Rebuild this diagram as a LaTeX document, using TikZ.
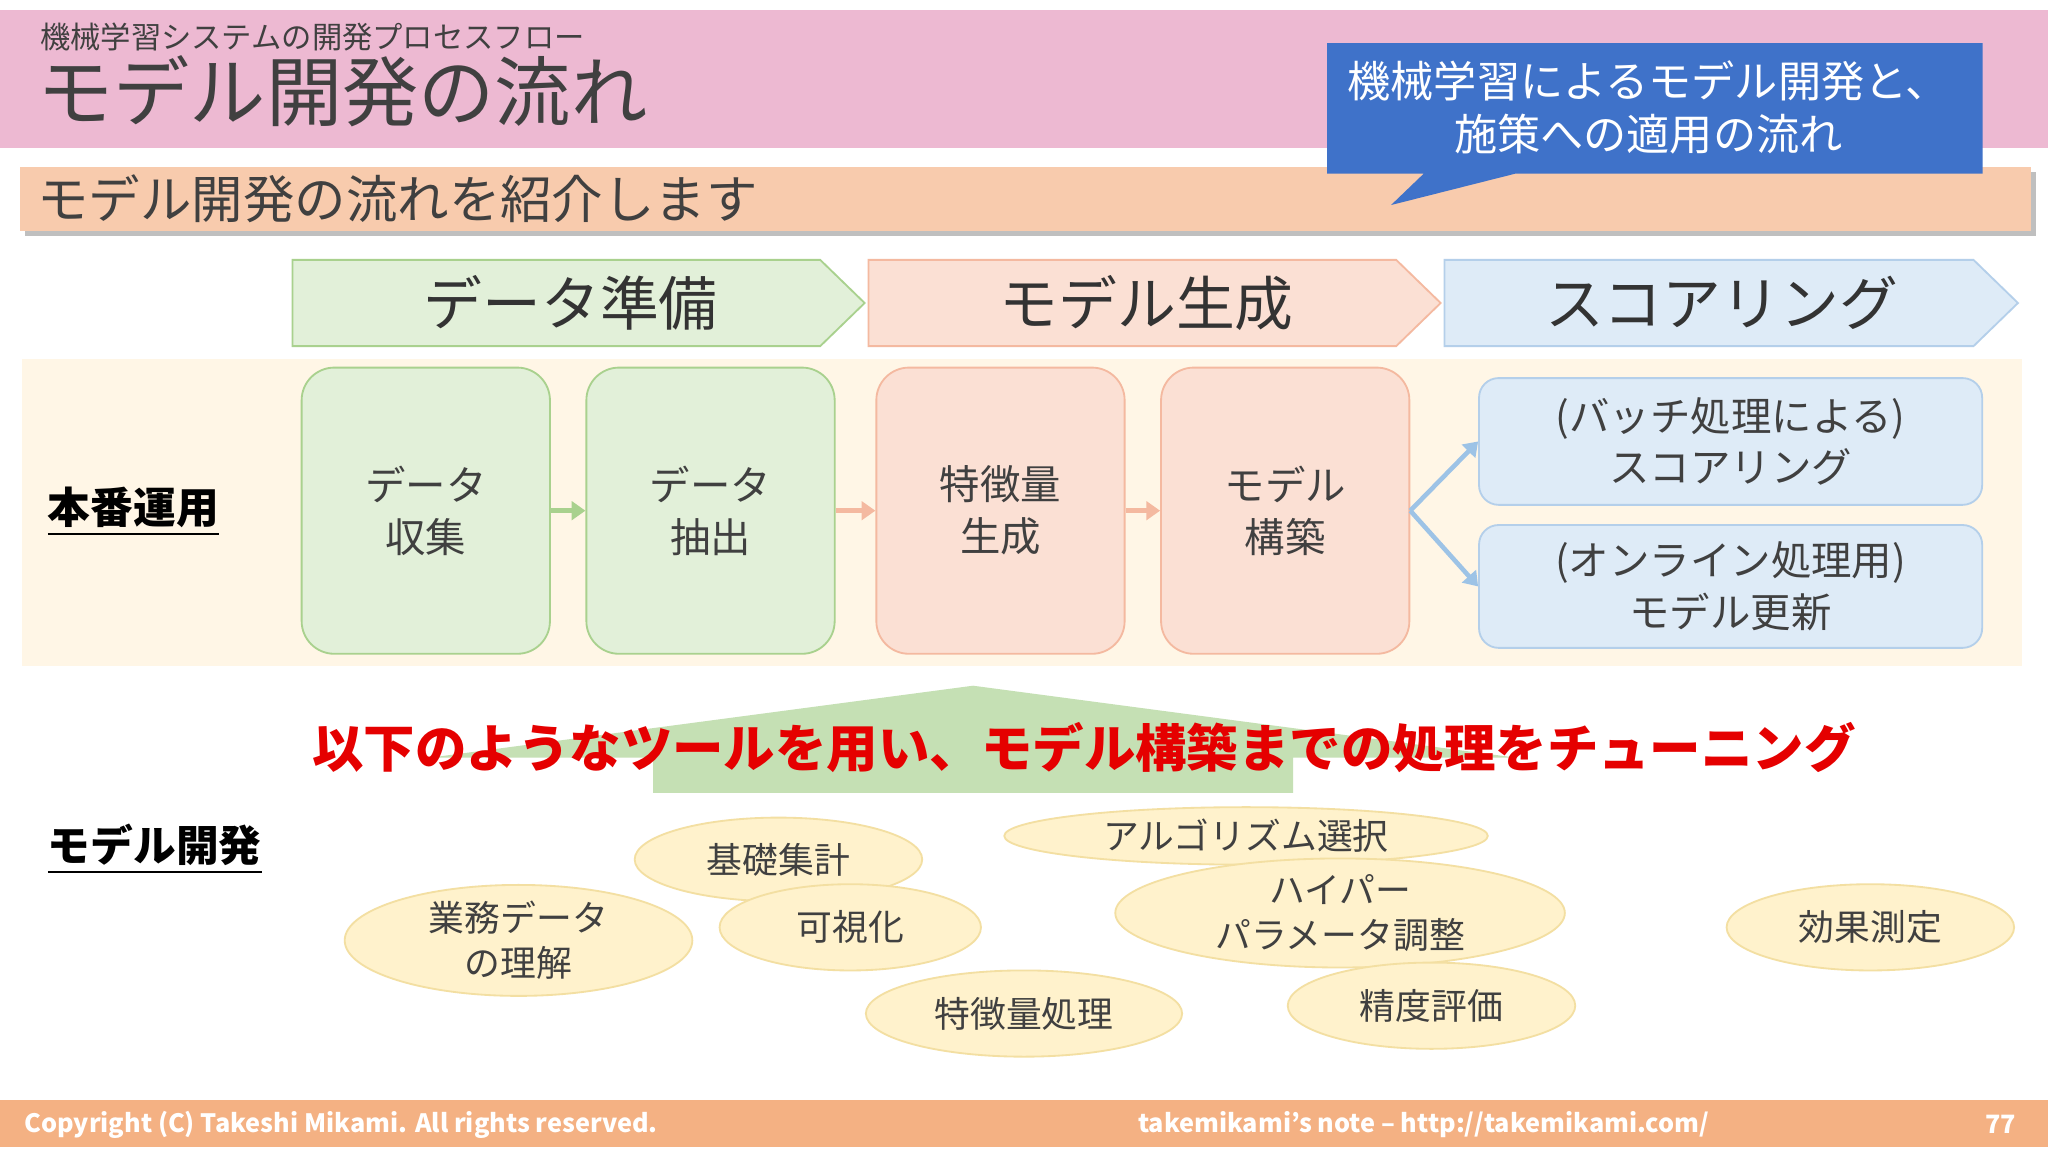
\documentclass[tikz,border=0pt]{standalone}
\usepackage{fontspec}
\setmainfont{Noto Sans CJK JP}
\usetikzlibrary{shapes.geometric,arrows.meta}
\definecolor{pinkbar}{HTML}{EDB9D2}
\definecolor{orbar}{HTML}{F8CBAD}
\definecolor{gfill}{HTML}{E2F0D9}
\definecolor{gline}{HTML}{A9D18E}
\definecolor{pfill}{HTML}{FBE0D4}
\definecolor{pline}{HTML}{F4B9A0}
\definecolor{bfill}{HTML}{DEEBF7}
\definecolor{bline}{HTML}{B4CFEA}
\definecolor{band}{HTML}{FFF6E6}
\definecolor{yfill}{HTML}{FFF2CC}
\definecolor{yline}{HTML}{F3DFA2}
\definecolor{callout}{HTML}{3F72C9}
\definecolor{foot}{HTML}{F4B183}
\definecolor{tri}{HTML}{C5E0B4}
\definecolor{barr}{HTML}{9DC3E6}
\tikzset{
 x=0.01cm,y=-0.01cm,
 rbox/.style={rounded corners=0.25cm,draw,line width=0.4pt,align=center,font=\fontsize{8.8}{11.3}\selectfont,text=black!75},
 ell/.style={ellipse,draw=yline,fill=yfill,line width=0.4pt,align=center,inner sep=0pt,font=\fontsize{7.8}{9.8}\selectfont,text=black!75},
 chev/.style={draw,line width=0.4pt},
 ctext/.style={font=\fontsize{12.8}{15}\selectfont,text=black!80},
 sarrow/.style={-{Triangle[length=3pt,width=4pt]},line width=1pt}
}
\begin{document}
\begin{tikzpicture}
\useasboundingbox (0,0) rectangle (1568,882);
\fill[white] (0,0) rectangle (1568,882);
% top band
\fill[pinkbar] (0,8) rectangle (1568,113);
\node[anchor=west,font=\fontsize{6.6}{8}\selectfont,text=black!75,inner sep=0pt] (sub) at (30,28) {機械学習システムの開発プロセスフロー};
\node[anchor=west,font=\fontsize{16.6}{18}\selectfont,text=black!75,inner sep=0pt] (title) at (28,70) {モデル開発の流れ};
% orange bar
\fill[black!25] (19,132) rectangle (1559,181);
\fill[orbar] (15,128) rectangle (1555,177);
\node[anchor=west,font=\fontsize{11.2}{12}\selectfont,text=black!75,inner sep=0pt] (intro) at (28,152) {モデル開発の流れを紹介します};
% callout
\fill[callout] (1016,33) -- (1518,33) -- (1518,133) -- (1160,133) -- (1065,157) -- (1090,133) -- (1016,133) -- cycle;
\node[align=center,text=white,font=\fontsize{9.4}{11.5}\selectfont] (co) at (1262,82) {機械学習によるモデル開発と、\\施策への適用の流れ};
% chevrons
\draw[chev,draw=gline,fill=gfill] (224,199) -- (628,199) -- (662,232) -- (628,265) -- (224,265) -- cycle;
\node[ctext] (c1) at (437,232) {データ準備};
\draw[chev,draw=pline,fill=pfill] (665,199) -- (1069,199) -- (1103,232) -- (1069,265) -- (665,265) -- cycle;
\node[ctext] (c2) at (878,232) {モデル生成};
\draw[chev,draw=bline,fill=bfill] (1106,199) -- (1511,199) -- (1545,232) -- (1511,265) -- (1106,265) -- cycle;
\node[ctext] (c3) at (1318,232) {スコアリング};
% band
\fill[band] (17,275) rectangle (1548,510);
\node[anchor=west,font=\fontsize{9.3}{11}\selectfont\bfseries,inner sep=0pt] (prod) at (36,392) {\underline{本番運用}};
\node[rbox,draw=gline,fill=gfill,minimum width=1.9cm,minimum height=2.19cm] (b1) at (326,391) {データ\\収集};
\node[rbox,draw=gline,fill=gfill,minimum width=1.9cm,minimum height=2.19cm] (b2) at (544,391) {データ\\抽出};
\node[rbox,draw=pline,fill=pfill,minimum width=1.9cm,minimum height=2.19cm] (b3) at (766,391) {特徴量\\生成};
\node[rbox,draw=pline,fill=pfill,minimum width=1.9cm,minimum height=2.19cm] (b4) at (984,391) {モデル\\構築};
\draw[sarrow,draw=gline,fill=gline] (b1) -- (b2);
\draw[sarrow,draw=pline,fill=pline] (b2) -- (b3);
\draw[sarrow,draw=pline,fill=pline] (b3) -- (b4);
\node[rbox,rounded corners=0.15cm,draw=bline,fill=bfill,minimum width=3.85cm,minimum height=0.97cm] (s1) at (1325,338) {(バッチ処理による)\\スコアリング};
\node[rbox,rounded corners=0.15cm,draw=bline,fill=bfill,minimum width=3.85cm,minimum height=0.94cm] (s2) at (1325,449) {(オンライン処理用)\\モデル更新};
\draw[sarrow,draw=barr,fill=barr] (b4.east) -- (s1.west);
\draw[sarrow,draw=barr,fill=barr] (b4.east) -- (s2.west);
% green up-arrow shape
\fill[tri] (330,580) -- (745,525) -- (1160,580) -- (990,580) -- (990,607) -- (500,607) -- (500,580) -- cycle;
\node[font=\fontsize{11.2}{12}\selectfont\bfseries,text=red!90!black] (msg) at (830,572) {以下のようなツールを用い、モデル構築までの処理をチューニング};
\node[anchor=west,font=\fontsize{9.3}{11}\selectfont\bfseries,inner sep=0pt] (dev) at (36,650) {\underline{モデル開発}};
% ellipses
\node[ell,minimum width=2.2cm,minimum height=0.64cm] (e1) at (596,658) {基礎集計};
\node[ell,minimum width=3.7cm,minimum height=0.44cm] (e2) at (954,640) {アルゴリズム選択};
\node[ell,minimum width=2.66cm,minimum height=0.8cm] (e3) at (397,720) {業務データ\\の理解};
\node[ell,minimum width=2.0cm,minimum height=0.66cm] (e4) at (651,710) {可視化};
\node[ell,minimum width=3.44cm,minimum height=0.76cm] (e5) at (1026,699) {ハイパー\\パラメータ調整};
\node[ell,minimum width=2.2cm,minimum height=0.66cm] (e6) at (1432,710) {効果測定};
\node[ell,minimum width=2.42cm,minimum height=0.66cm] (e7) at (784,776) {特徴量処理};
\node[ell,minimum width=2.2cm,minimum height=0.66cm] (e8) at (1096,770) {精度評価};
% footer
\fill[foot] (0,842) rectangle (1568,878);
\node[anchor=west,text=white,font=\fontsize{5.5}{7}\selectfont\bfseries,inner sep=0pt] (f1) at (18,861) {Copyright (C) Takeshi Mikami. All rights reserved.};
\node[text=white,font=\fontsize{5.5}{7}\selectfont\bfseries] (f2) at (1090,861) {takemikami’s note – http://takemikami.com/};
\node[text=white,font=\fontsize{5.5}{7}\selectfont\bfseries] (f3) at (1532,861) {77};
\end{tikzpicture}
\end{document}
